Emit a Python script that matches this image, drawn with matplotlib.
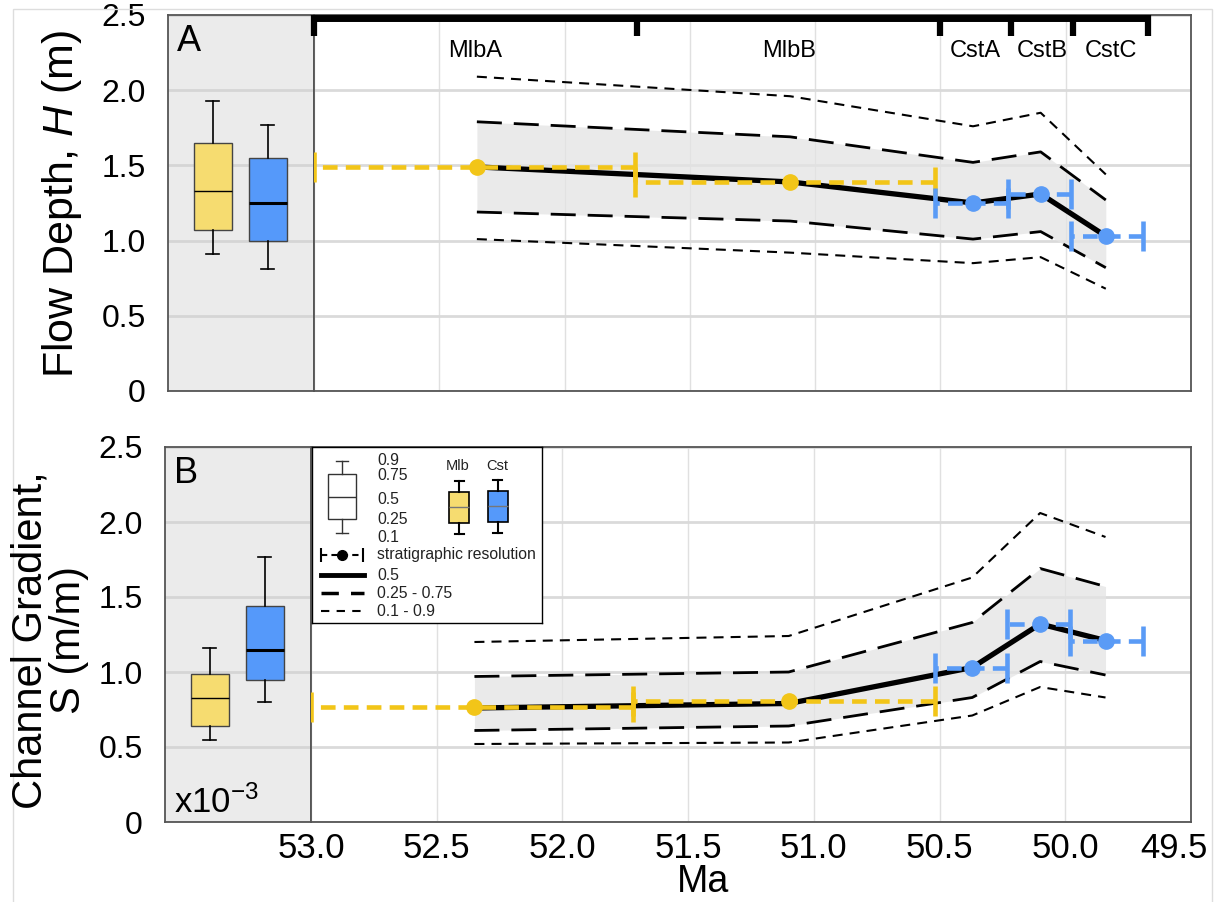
import matplotlib.pyplot as plt
import numpy as np
from matplotlib.patches import Rectangle

plt.rcParams['font.family'] = ['Liberation Sans', 'DejaVu Sans']
plt.rcParams['mathtext.fontset'] = 'custom'
plt.rcParams['mathtext.rm'] = 'Liberation Sans'
plt.rcParams['mathtext.it'] = 'Liberation Sans:italic'

# stages / ages (Ma)
stages = ['MlbA', 'MlbB', 'CstA', 'CstB', 'CstC']
stage_bounds = [53.0, 51.71, 50.50, 50.22, 49.97, 49.67]
age = [52.35, 51.10, 50.37, 50.10, 49.84]
age_old = [53.0, 51.72, 50.52, 50.23, 49.98]
age_young = [51.72, 50.52, 50.23, 49.98, 49.69]
formation = ['Mlb', 'Mlb', 'Cst', 'Cst', 'Cst']

# flow depth H (m)
H_pt = [1.49, 1.39, 1.25, 1.31, 1.03]
H_q10 = [1.01, 0.92, 0.85, 0.89, 0.68]
H_q25 = [1.19, 1.13, 1.01, 1.06, 0.82]
H_q50 = [1.49, 1.39, 1.25, 1.31, 1.03]
H_q75 = [1.79, 1.69, 1.52, 1.59, 1.27]
H_q90 = [2.09, 1.96, 1.76, 1.85, 1.44]
# boxes: 0.1, 0.25, 0.5, 0.75, 0.9
H_box_mlb = [0.91, 1.07, 1.33, 1.65, 1.93]
H_box_cst = [0.81, 1.00, 1.25, 1.55, 1.77]

# channel gradient S (x10^-3)
S_pt = [0.77, 0.81, 1.03, 1.32, 1.21]
S_q10 = [0.52, 0.53, 0.71, 0.90, 0.83]
S_q25 = [0.61, 0.64, 0.83, 1.07, 0.98]
S_q50 = [0.76, 0.79, 1.03, 1.32, 1.21]
S_q75 = [0.97, 1.00, 1.33, 1.69, 1.57]
S_q90 = [1.20, 1.24, 1.63, 2.06, 1.90]
S_box_mlb = [0.55, 0.64, 0.83, 0.99, 1.16]
S_box_cst = [0.80, 0.95, 1.15, 1.44, 1.77]

yticks = [0, 0.5, 1.0, 1.5, 2.0, 2.5]
ytick_labels = ['0', '0.5', '1.0', '1.5', '2.0', '2.5']
xticks = [53.0, 52.5, 52.0, 51.5, 51.0, 50.5, 50.0, 49.5]

YEL = '#F2C518'
YEL_BOX = '#F6DC70'
BLUE = '#5A9BF6'
BLUE_BOX = '#5599FA'
SPINE = '#555555'
colors = {'Mlb': YEL, 'Cst': BLUE}

W, Hh = 1220, 902
fig = plt.figure(figsize=(W / 100, Hh / 100), dpi=100)


def px_axes(x0, y0, x1, y1):
    return fig.add_axes([x0 / W, 1 - y1 / Hh, (x1 - x0) / W, (y1 - y0) / Hh])


def stats(q):
    return dict(whislo=q[0], q1=q[1], med=q[2], q3=q[3], whishi=q[4], fliers=[])


def box_panel(ax, mlb, cst):
    ax.set_facecolor('#EBEBEB')
    ax.set_xlim(0, 3)
    ax.set_ylim(0, 2.5)
    ax.set_yticks(yticks)
    ax.set_yticklabels(ytick_labels, fontsize=23)
    ax.tick_params(axis='y', length=0, pad=16)
    ax.tick_params(axis='x', bottom=False, labelbottom=False)
    ax.yaxis.grid(True, color='#D5D5D5', lw=2)
    ax.set_axisbelow(True)
    for s in ax.spines.values():
        s.set_color(SPINE)
        s.set_linewidth(1.3)
    for q, pos, fc, mlw in [(mlb, 0.92, YEL_BOX, 1.0), (cst, 2.05, BLUE_BOX, 2.2)]:
        ax.bxp([stats(q)], positions=[pos], widths=0.78, capwidths=0.27,
               patch_artist=True, showfliers=False, manage_ticks=False,
               boxprops=dict(facecolor=fc, edgecolor='#444444', lw=1),
               medianprops=dict(color='k', lw=mlw),
               whiskerprops=dict(color='k', lw=1.2),
               capprops=dict(color='k', lw=1.2))


def main_panel(ax, pt, q10, q25, q50, q75, q90, show_x):
    ax.set_xlim(53.0, 49.5)
    ax.set_ylim(0, 2.5)
    ax.set_xticks(xticks)
    ax.set_yticks(yticks)
    ax.tick_params(length=0, labelleft=False)
    if show_x:
        # last label is drawn separately so it stays inside the figure
        ax.set_xticklabels(['%.1f' % t for t in xticks[:-1]] + [''], fontsize=25)
        ax.tick_params(axis='x', pad=7)
        ax.annotate('%.1f' % xticks[-1], xy=(xticks[-1], 0),
                    xycoords=('data', 'axes fraction'), xytext=(-12, -7),
                    textcoords='offset points', ha='center', va='top',
                    fontsize=25)
    else:
        ax.tick_params(axis='x', labelbottom=False)
    ax.yaxis.grid(True, color='#DADADA', lw=2)
    ax.xaxis.grid(True, color='#E0E0E0', lw=1)
    ax.set_axisbelow(True)
    for s in ax.spines.values():
        s.set_color(SPINE)
        s.set_linewidth(1.3)
    ax.fill_between(age, q25, q75, color='#E4E4E4', alpha=0.75, lw=0, zorder=1)
    ax.plot(age, q90, color='k', lw=1.5, ls=(0, (4.8, 3.4)), zorder=2)
    ax.plot(age, q10, color='k', lw=1.5, ls=(0, (4.8, 3.4)), zorder=2)
    ax.plot(age, q75, color='k', lw=2.0, ls=(0, (9, 4.3)), zorder=2)
    ax.plot(age, q25, color='k', lw=2.0, ls=(0, (9, 4.3)), zorder=2)
    ax.plot(age, q50, color='k', lw=3.8, zorder=3, solid_joinstyle='round')
    a = np.array(age)
    for f in ['Mlb', 'Cst']:
        idx = [i for i, g in enumerate(formation) if g == f]
        x = a[idx]
        lo = x - np.array(age_young)[idx]
        hi = np.array(age_old)[idx] - x
        eb = ax.errorbar(x, np.array(pt)[idx], xerr=[lo, hi], fmt='o',
                         color=colors[f], ms=11, elinewidth=3.3,
                         capsize=11, capthick=3.3, zorder=4)
        eb[2][0].set_linestyle((0, (3.2, 1.8)))


# panel A
axA_box = px_axes(168, 15, 314, 391)
axA = px_axes(314, 15, 1191, 391)
box_panel(axA_box, H_box_mlb, H_box_cst)
main_panel(axA, H_pt, H_q10, H_q25, H_q50, H_q75, H_q90, False)
axA_box.text(0.06, 0.975, 'A', transform=axA_box.transAxes, fontsize=26,
             va='top', ha='left')

# stage bar
axA.plot([stage_bounds[0], stage_bounds[-1]], [2.483, 2.483], color='k',
         lw=5, clip_on=False, solid_capstyle='butt', zorder=5)
axA.vlines(stage_bounds, 2.36, 2.5, color='k', lw=4.5, clip_on=False, zorder=5)
for i, name in enumerate(stages):
    axA.text((stage_bounds[i] + stage_bounds[i + 1]) / 2, 2.26, name,
             fontsize=17, ha='center', va='center')

# panel B
axB_box = px_axes(165, 447, 311, 822)
axB = px_axes(311, 447, 1191, 822)
box_panel(axB_box, S_box_mlb, S_box_cst)
main_panel(axB, S_pt, S_q10, S_q25, S_q50, S_q75, S_q90, True)
axB_box.text(0.06, 0.975, 'B', transform=axB_box.transAxes, fontsize=26,
             va='top', ha='left')
axB_box.text(0.06, 0.025, 'x10$^{-3}$', transform=axB_box.transAxes,
             fontsize=25, va='baseline', ha='left')

# legend (custom, pixel layout)
lg = px_axes(312, 447, 542, 623)
lg.set_xlim(0, 230)
lg.set_ylim(176, 0)
for s in lg.spines.values():
    s.set_color('k')
    s.set_linewidth(1)
lg.bxp([dict(whislo=86, q1=72, med=50, q3=27, whishi=14, fliers=[])],
       positions=[30], widths=28, capwidths=12, patch_artist=True,
       manage_ticks=False,
       boxprops=dict(facecolor='white', edgecolor='#333333', lw=1),
       medianprops=dict(color='#333333', lw=1),
       whiskerprops=dict(color='#333333', lw=1), capprops=dict(color='#333333', lw=1))
for pos, fc, top in [(147, YEL_BOX, 34), (185.5, BLUE_BOX, 33)]:
    lg.bxp([dict(whislo=top + 53, q1=top + 42, med=top + 26, q3=top + 11,
                 whishi=top, fliers=[])],
           positions=[pos], widths=20, capwidths=9, patch_artist=True,
           manage_ticks=False,
           boxprops=dict(facecolor=fc, edgecolor='k', lw=1.2),
           medianprops=dict(color='#777777', lw=1),
           whiskerprops=dict(color='k', lw=1.5), capprops=dict(color='k', lw=1.5))
lg.set_xticks([])
lg.set_yticks([])
for y, t in [(13, '0.9'), (28, '0.75'), (52, '0.5'), (72, '0.25'), (90, '0.1')]:
    lg.text(65, y, t, fontsize=11.3, va='center', color='#222222')
lg.text(146, 19, 'Mlb', fontsize=10.5, ha='center', va='center', color='#222222')
lg.text(185, 19, 'Cst', fontsize=10.5, ha='center', va='center', color='#222222')
eb = lg.errorbar([30], [108], xerr=[[21], [21]], fmt='o', color='k', ms=7,
                 elinewidth=1.5, capsize=4.7, capthick=1.5)
eb[2][0].set_linestyle((0, (3, 2)))
lg.plot([9, 52], [128, 128], color='k', lw=3.5)
lg.plot([9, 52], [146, 146], color='k', lw=2.5, ls=(0, (5, 3.5)))
lg.plot([9, 52], [164, 164], color='k', lw=1.5, ls=(0, (4, 3.5)))
for y, t in [(108, 'stratigraphic resolution'), (128, '0.5'),
             (146, '0.25 - 0.75'), (164, '0.1 - 0.9')]:
    lg.text(65, y, t, fontsize=11.3, va='center', color='#222222')

# axis labels
fig.text(62 / W, 1 - 204 / Hh, 'Flow Depth, $H$ (m)', rotation=90,
         fontsize=31, ha='center', va='center')
fig.text(50 / W, 1 - 640 / Hh, 'Channel Gradient,\nS (m/m)', rotation=90,
         fontsize=30, ha='center', va='center', multialignment='center',
         linespacing=0.95)
fig.text(703 / W, 1 - 882 / Hh, 'Ma', fontsize=27, ha='center', va='center')

# light frame around the figure
fig.patches.append(Rectangle((13 / W, -0.1), (1212 - 13) / W, 1.1 - 9 / Hh,
                             transform=fig.transFigure, fill=False,
                             edgecolor='#DDDDDD', lw=1))

fig.savefig('out.png', dpi=100)
